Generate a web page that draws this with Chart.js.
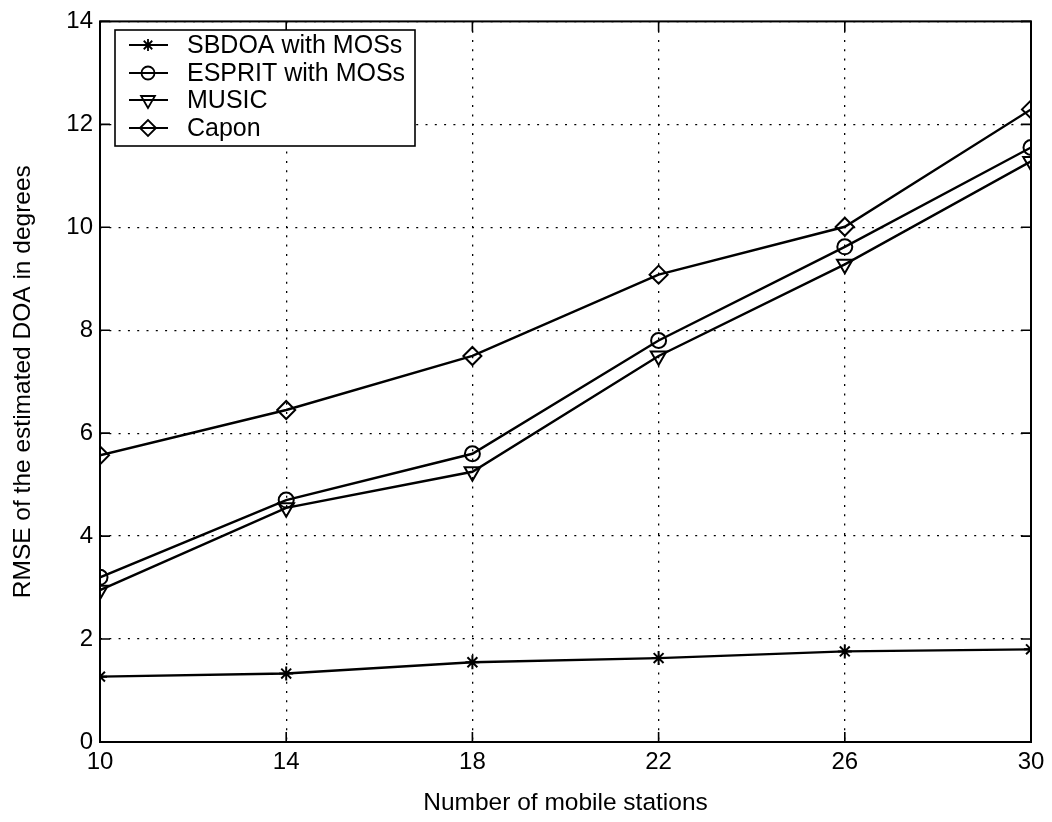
<!DOCTYPE html>
<html>
<head>
<meta charset="utf-8">
<script src="https://cdn.jsdelivr.net/npm/chart.js@4.4.1/dist/chart.umd.min.js"></script>
<style>
  html, body { margin: 0; padding: 0; background: #ffffff; }
  #wrap { width: 1052px; height: 822px; position: relative; }
</style>
</head>
<body>
<div id="wrap"><canvas id="c" width="1052" height="822"></canvas></div>
<script>
// ---- data ----
const stations = [10, 14, 18, 22, 26, 30];
const sbdoa  = [1.27, 1.33, 1.55, 1.63, 1.76, 1.80];
const esprit = [3.20, 4.70, 5.60, 7.80, 9.62, 11.55];
const music  = [2.95, 4.55, 5.25, 7.50, 9.28, 11.28];
const capon  = [5.57, 6.45, 7.50, 9.08, 10.01, 12.29];
const seriesLabels = ['SBDOA with MOSs', 'ESPRIT with MOSs', 'MUSIC', 'Capon'];
const xTicks = [10, 14, 18, 22, 26, 30];
const yTicks = [0, 2, 4, 6, 8, 10, 12, 14];
const xTitle = 'Number of mobile stations';
const yTitle = 'RMSE of the estimated DOA in degrees';

const FONT = "'Liberation Sans', Arial, Helvetica, sans-serif";
const toXY = (arr) => arr.map((v, i) => ({ x: stations[i], y: v }));

function ds(label, data, style, radius, rotation) {
  return {
    label, data: toXY(data),
    borderColor: '#000', borderWidth: 2.4,
    pointStyle: style, pointRadius: radius, pointHoverRadius: radius,
    pointRotation: rotation || 0,
    pointBorderColor: '#000', pointBorderWidth: 2,
    pointBackgroundColor: 'rgba(0,0,0,0)',
    fill: false, tension: 0
  };
}

const framePlugin = {
  id: 'frame',
  afterDatasetsDraw(chart) {
    const { ctx, chartArea: a, scales } = chart;
    ctx.save();
    // inward ticks
    ctx.strokeStyle = '#000';
    ctx.lineWidth = 1.6;
    const tl = 10;
    ctx.beginPath();
    xTicks.forEach(v => {
      const px = scales.x.getPixelForValue(v);
      ctx.moveTo(px, a.bottom); ctx.lineTo(px, a.bottom - tl);
      ctx.moveTo(px, a.top); ctx.lineTo(px, a.top + tl);
    });
    yTicks.forEach(v => {
      const py = scales.y.getPixelForValue(v);
      ctx.moveTo(a.left, py); ctx.lineTo(a.left + tl, py);
      ctx.moveTo(a.right, py); ctx.lineTo(a.right - tl, py);
    });
    ctx.stroke();
    // frame
    ctx.lineWidth = 2;
    ctx.strokeRect(a.left, a.top, a.right - a.left, a.bottom - a.top);

    // legend box
    const lx = 115, ly = 30, lw = 300, lh = 116;
    ctx.fillStyle = '#fff';
    ctx.fillRect(lx, ly, lw, lh);
    ctx.lineWidth = 1.6;
    ctx.strokeRect(lx, ly, lw, lh);
    const rows = [45, 73, 100, 128];
    chart.data.datasets.forEach((d, i) => {
      const y = rows[i];
      ctx.strokeStyle = '#000';
      ctx.lineWidth = 2;
      ctx.beginPath();
      ctx.moveTo(129, y); ctx.lineTo(168, y);
      ctx.stroke();
      ctx.lineWidth = 1.8;
      ctx.fillStyle = 'rgba(0,0,0,0)';
      Chart.helpers.drawPoint(ctx, {
        pointStyle: d.pointStyle, rotation: d.pointRotation,
        radius: d.pointRadius - 1, borderWidth: 1.8
      }, 148, y);
      ctx.fillStyle = '#000';
      ctx.font = '25px ' + FONT;
      ctx.textBaseline = 'middle';
      ctx.textAlign = 'left';
      ctx.fillText(d.label, 187, y + 1);
    });
    ctx.restore();
  }
};

new Chart(document.getElementById('c'), {
  type: 'line',
  data: {
    datasets: [
      ds(seriesLabels[0], sbdoa, 'star', 7),
      ds(seriesLabels[1], esprit, 'circle', 7.5),
      ds(seriesLabels[2], music, 'triangle', 9, 180),
      ds(seriesLabels[3], capon, 'rectRot', 9)
    ]
  },
  options: {
    responsive: false,
    animation: false,
    devicePixelRatio: 1,
    layout: { padding: { top: 14, right: 21, left: 0, bottom: 0 } },
    plugins: { legend: { display: false }, tooltip: { enabled: false } },
    scales: {
      x: {
        type: 'linear', min: 10, max: 30,
        afterBuildTicks: (s) => { s.ticks = xTicks.map(v => ({ value: v })); },
        afterFit: (s) => { s.height = 80; },
        ticks: { color: '#000', font: { family: FONT, size: 24 }, padding: 6, maxRotation: 0 },
        grid: { color: '#000', lineWidth: 1.3, drawTicks: false },
        border: { display: false, dash: [2, 7.3] },
        title: { display: true, text: xTitle, color: '#000', font: { family: FONT, size: 24.5 }, padding: { top: 0, bottom: 4 } }
      },
      y: {
        type: 'linear', min: 0, max: 14,
        afterBuildTicks: (s) => { s.ticks = yTicks.map(v => ({ value: v })); },
        afterFit: (s) => { s.width = 100; },
        ticks: { color: '#000', font: { family: FONT, size: 24 }, padding: 7 },
        grid: { color: '#000', lineWidth: 1.3, drawTicks: false },
        border: { display: false, dash: [2, 7.3] },
        title: { display: true, text: yTitle, color: '#000', font: { family: FONT, size: 24.5 }, padding: { top: 9, bottom: 0 } }
      }
    }
  },
  plugins: [framePlugin]
});
</script>
</body>
</html>
